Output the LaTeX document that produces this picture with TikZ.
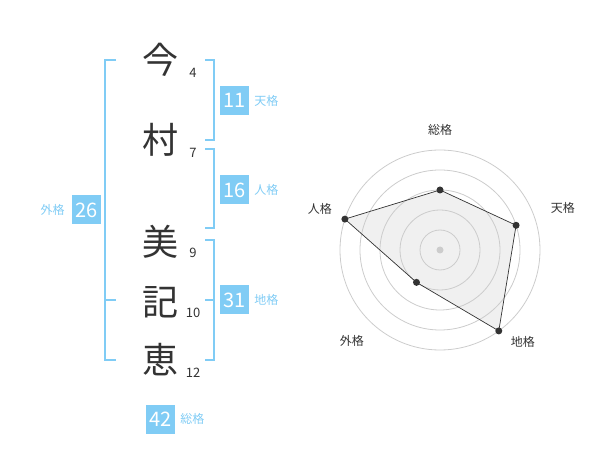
\documentclass[tikz,border=0pt]{standalone}
\usepackage{fontspec}
\setmainfont{Noto Sans CJK JP}
\usetikzlibrary{positioning}

\definecolor{kakublue}{HTML}{80CCF5}
\definecolor{inkgray}{HTML}{333333}

\tikzset{
  kanji/.style={font=\fontsize{36}{36}\selectfont, text=inkgray, inner sep=0pt},
  strokes/.style={font=\fontsize{13}{13}\selectfont, text=inkgray, inner sep=0pt},
  kakubox/.style={fill=kakublue, text=white, minimum size=29pt, inner sep=0pt, font=\fontsize{20}{20}\selectfont},
  kakulabel/.style={text=kakublue, font=\fontsize{12}{12}\selectfont, inner sep=0pt},
  bracket/.style={draw=kakublue, line width=2pt},
  ring/.style={draw=black!20, line width=0.8pt},
  axislabel/.style={text=inkgray, font=\fontsize{12}{12}\selectfont, inner sep=0pt}
}

\begin{document}
\begin{tikzpicture}[x=1pt, y=-1pt]
  \useasboundingbox (0,0) rectangle (600,470);

  % name and stroke counts
  \node[kanji] (k1) at (160,60) {今};
  \node[kanji] (k2) at (160,140) {村};
  \node[kanji] (k3) at (160,242) {美};
  \node[kanji] (k4) at (160,302) {記};
  \node[kanji] (k5) at (160,360) {恵};
  \node[strokes] (n1) at (193,73) {4};
  \node[strokes] (n2) at (193,153) {7};
  \node[strokes] (n3) at (193,253) {9};
  \node[strokes] (n4) at (193,313) {10};
  \node[strokes] (n5) at (193,373) {12};

  % brackets
  \draw[bracket] (205,60) -- (214,60) -- (214,140) -- (205,140);
  \draw[bracket] (205,149) -- (214,149) -- (214,228) -- (205,228);
  \draw[bracket] (205,240) -- (214,240) -- (214,360) -- (205,360);
  \draw[bracket] (205,300) -- (214,300);
  \draw[bracket] (116,60) -- (105,60) -- (105,360) -- (116,360);
  \draw[bracket] (105,300) -- (116,300);

  % totals
  \node[kakubox] (ten) at (234.5,100.5) {11};
  \node[kakulabel, right=5pt of ten] (tenlabel) {天格};
  \node[kakubox] (jin) at (234.5,190) {16};
  \node[kakulabel, right=5pt of jin] (jinlabel) {人格};
  \node[kakubox] (chi) at (234.5,300) {31};
  \node[kakulabel, right=5pt of chi] (chilabel) {地格};
  \node[kakubox] (gai) at (86.5,210) {26};
  \node[kakulabel, left=7pt of gai] (gailabel) {外格};
  \node[kakubox] (sou) at (160.5,419) {42};
  \node[kakulabel, right=5pt of sou] (soulabel) {総格};

  % radar chart
  \begin{scope}[shift={(440,250)}, yscale=-1]
    \coordinate (rsou) at (90:60);
    \coordinate (rten) at (18:80);
    \coordinate (rchi) at (-54:100);
    \coordinate (rgai) at (-126:40);
    \coordinate (rjin) at (162:100);
    \fill[black!6] (rsou) -- (rten) -- (rchi) -- (rgai) -- (rjin) -- cycle;
    \foreach \r in {20,40,...,100}
      \draw[ring] (0,0) circle[radius=\r];
    \fill[black!20] (0,0) circle[radius=3.5];
    \draw[inkgray, line width=0.7pt] (rsou) -- (rten) -- (rchi) -- (rgai) -- (rjin) -- cycle;
    \foreach \p in {rsou,rten,rchi,rgai,rjin}
      \fill[inkgray] (\p) circle[radius=3.5];
    \node[axislabel] (asou) at (90:120) {総格};
    \node[axislabel] (aten) at (19:130) {天格};
    \node[axislabel] (achi) at (-48:124) {地格};
    \node[axislabel] (agai) at (-134:127) {外格};
    \node[axislabel] (ajin) at (161:127) {人格};
  \end{scope}
\end{tikzpicture}
\end{document}
